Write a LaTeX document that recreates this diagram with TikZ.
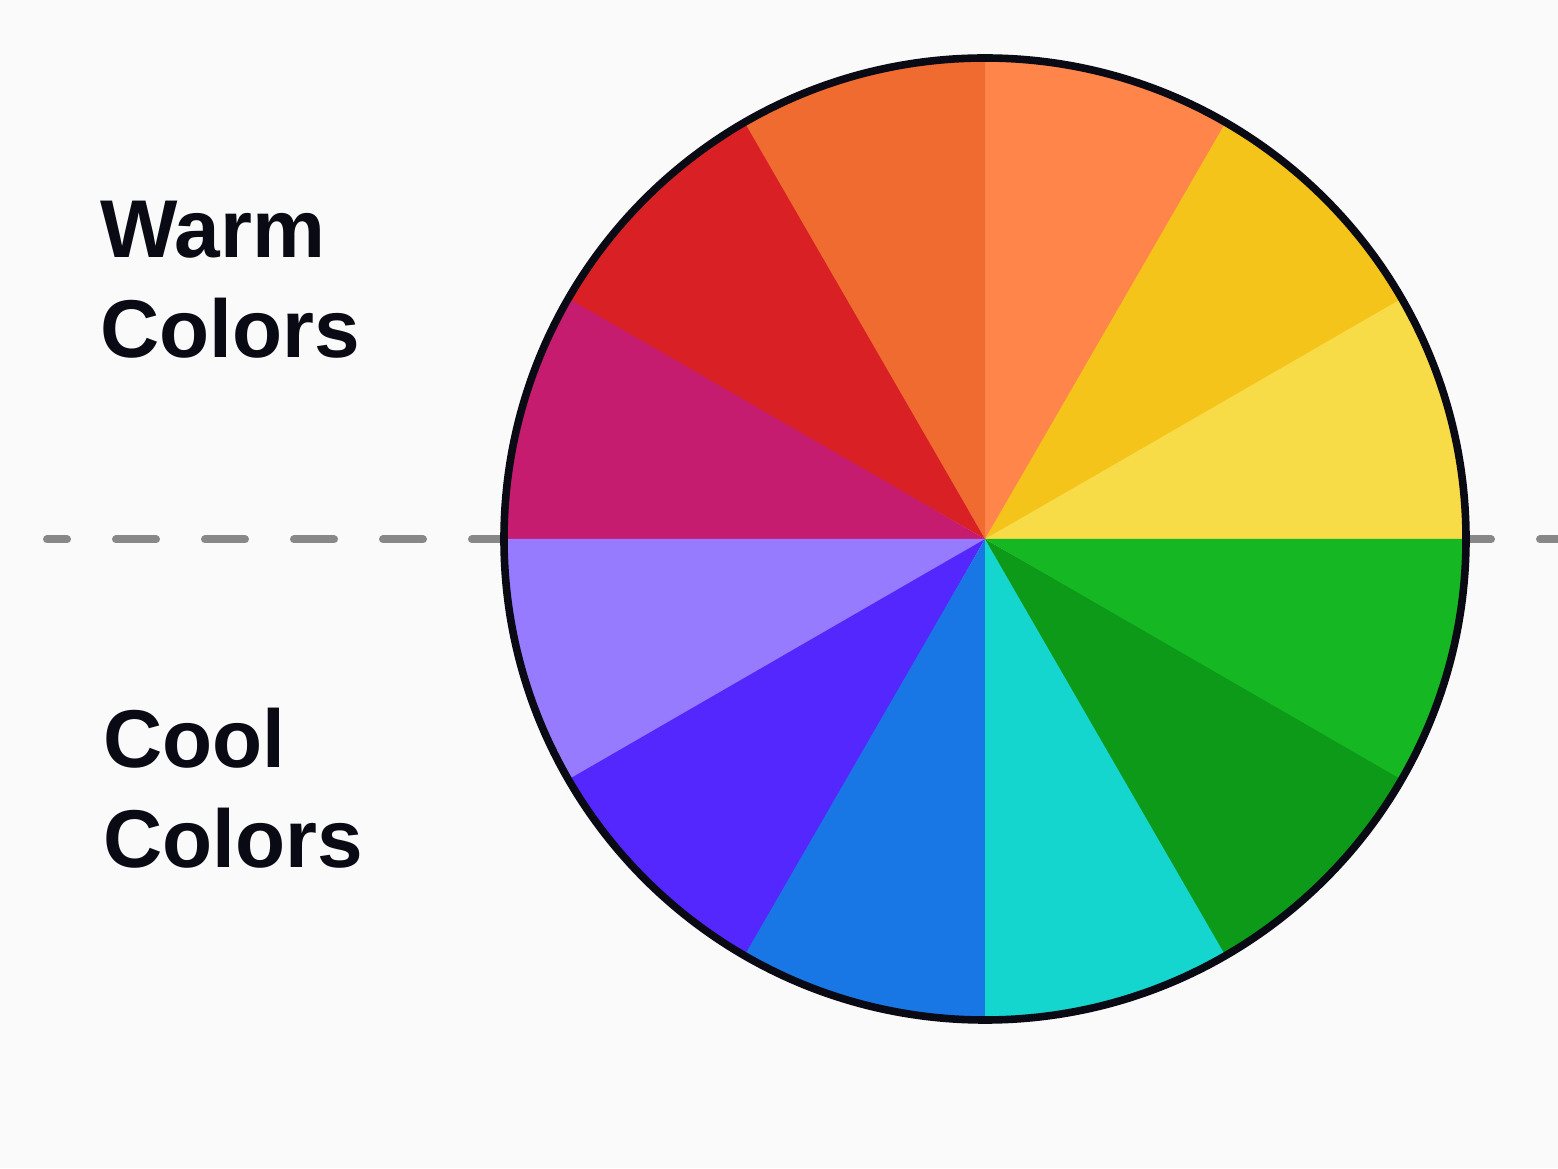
\documentclass[tikz,border=0pt]{standalone}
\usepackage{fontspec}
\setmainfont{Liberation Sans}
\definecolor{bg}{HTML}{FAFAFA}
\definecolor{ink}{HTML}{0A0A14}
\definecolor{dashgray}{HTML}{888888}
\definecolor{sA}{HTML}{F7DB47}
\definecolor{sB}{HTML}{F4C41A}
\definecolor{sC}{HTML}{FF854A}
\definecolor{sD}{HTML}{EF6B2F}
\definecolor{sE}{HTML}{D92125}
\definecolor{sF}{HTML}{C61C6F}
\definecolor{sG}{HTML}{977BFF}
\definecolor{sH}{HTML}{5527FF}
\definecolor{sI}{HTML}{1877E5}
\definecolor{sJ}{HTML}{14D6CE}
\definecolor{sK}{HTML}{0C9A18}
\definecolor{sL}{HTML}{15B823}
\tikzset{
  label text/.style={anchor=base west, align=left, text=ink, inner sep=0pt,
    font={\fontsize{41}{50}\selectfont\bfseries}},
  divider/.style={draw=dashgray, line width=4pt, line cap=round,
    dash pattern=on 20pt off 24.5pt, dash phase=10pt},
  rim/.style={draw=ink, line width=3.8pt}
}
\begin{document}
\begin{tikzpicture}[x=0.5pt, y=0.5pt]
\fill[bg] (0,0) rectangle (1558,1168);
\useasboundingbox (0,0) rectangle (1558,1168);
\coordinate (c) at (985,629);
\coordinate (ls) at (47,628.5);
\coordinate (le) at (1562,628.5);
\draw[divider] (ls) -- (le);
\foreach \a/\col in {0/sA,30/sB,60/sC,90/sD,120/sE,150/sF,180/sG,210/sH,240/sI,270/sJ,300/sK,330/sL}{
  \pgfmathsetmacro{\e}{min(\a+30.3,360)}
  \fill[\col] (c) -- ++(\a:481) arc[start angle=\a, end angle=\e, radius=481] -- cycle;
}
\draw[rim] (c) circle[radius=481];
\node[label text] (warm) at (100,810) {Warm\\Colors};
\node[label text] (cool) at (103,300) {Cool\\Colors};
\end{tikzpicture}
\end{document}
